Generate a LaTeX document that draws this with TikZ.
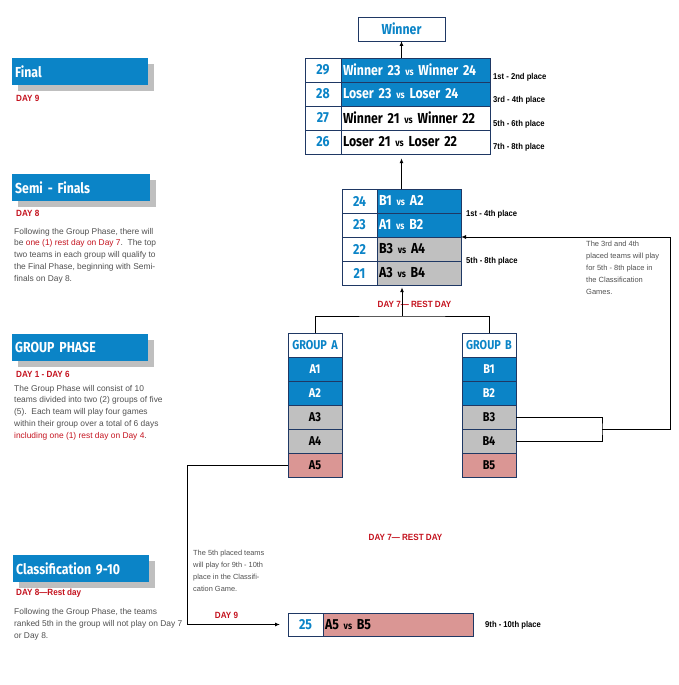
\documentclass[tikz,border=0pt]{standalone}
\usepackage{fontspec}
\setmainfont{Liberation Sans}
\newfontfamily\dispfont{Fira Sans}[FakeStretch=0.85]
\newfontfamily\narrowfont{Liberation Sans}[FakeStretch=0.9]
\usetikzlibrary{positioning,arrows.meta,calc,fit,shadows}

\definecolor{tblue}{RGB}{11,132,199}
\definecolor{navy}{RGB}{31,56,100}
\definecolor{cellgray}{RGB}{192,192,192}
\definecolor{cellpink}{RGB}{218,150,148}
\definecolor{shadowgray}{RGB}{191,191,191}
\definecolor{dayred}{RGB}{196,18,30}
\definecolor{bodygray}{RGB}{80,80,80}

\newcommand\cellfnt{\dispfont\bfseries\fontsize{14.5}{15}\selectfont}
\newcommand\grpfnt{\dispfont\bfseries\fontsize{12.8}{13}\selectfont}
\newcommand\headfnt{\dispfont\bfseries\fontsize{14.5}{15}\selectfont}
\newcommand\dayfnt{\narrowfont\bfseries\fontsize{9}{10}\selectfont}
\newcommand\placefnt{\narrowfont\bfseries\fontsize{8.5}{9}\selectfont}
\newcommand\bodyfnt{\fontsize{8.4}{11.7}\selectfont}
\newcommand\vstxt{{\fontsize{10}{10}\selectfont vs}}

\begin{document}
\begin{tikzpicture}[
    x=1pt, y=-1pt,
    cell/.style={draw=navy, line width=0.8pt, minimum height=24pt,
                 inner xsep=2pt, inner ysep=0pt, outer sep=0pt, anchor=north west},
    numcell/.style={cell, fill=white, text=tblue, align=center, font=\cellfnt},
    match/.style={cell, align=left, font=\cellfnt},
    gcell/.style={cell, text width=50pt, align=center, font=\grpfnt},
    onblue/.style={fill=tblue, text=white},
    ongray/.style={fill=cellgray, text=black},
    onpink/.style={fill=cellpink, text=black},
    onwhite/.style={fill=white, text=black},
    head/.style={fill=tblue, text=white, font=\headfnt, minimum height=27pt,
                 text width=130pt, align=left, inner xsep=3pt, inner ysep=0pt,
                 anchor=north west,
                 general shadow={fill=shadowgray, shadow xshift=6pt, shadow yshift=-6pt}},
    day/.style={text=dayred, font=\dayfnt, inner sep=0pt},
    place/.style={font=\placefnt, anchor=west, inner sep=0pt},
    body/.style={font=\bodyfnt, text=bodygray, align=left, anchor=north west, inner sep=0pt},
    note/.style={body, font=\fontsize{7.5}{12}\selectfont},
    link/.style={line width=1pt},
    arr/.style={link, -{Latex[length=5pt,width=4pt]}},
  ]
  \useasboundingbox (0,0) rectangle (679,685);

  % --- Left column: phases ------------------------------------------------
  \node[head] (hfinal) at (12,58) {Final};
  \node[day, anchor=west] (dfinal) at (16,98) {DAY 9};

  \node[head, text width=132pt] (hsemi) at (12,174) {Semi - Finals};
  \node[day, anchor=west] (dsemi) at (16,213) {DAY 8};
  \node[body] (bsemi) at (14,228) {Following the Group Phase, there will\\
    be {\color{dayred}one (1) rest day on Day 7}.\ \ The top\\
    two teams in each group will qualify to\\
    the Final Phase, beginning with Semi-\\
    finals on Day 8.};

  \node[head] (hgroup) at (12,334) {GROUP PHASE};
  \node[day, anchor=west] (dgroup) at (16,374) {DAY 1 - DAY 6};
  \node[body] (bgroup) at (14,385) {The Group Phase will consist of 10\\
    teams divided into two (2) groups of five\\
    (5).\ \ Each team will play four games\\
    within their group over a total of 6 days\\
    {\color{dayred}including one (1) rest day on Day 4}.};

  \node[head] (hclass) at (13,555) {Classification 9-10};
  \node[day, anchor=west] (dclass) at (16,593) {DAY 8\textemdash Rest day};
  \node[body] (bclass) at (14,608.5) {Following the Group Phase, the teams\\
    ranked 5th in the group will not play on Day 7\\
    or Day 8.};

  % --- Final (day 9) ------------------------------------------------------
  \node[cell, fill=white, text=tblue, minimum width=87pt, font=\cellfnt] (winner) at (358,17) {Winner};

  \node[numcell, text width=32pt] (f29n) at (305,58) {29};
  \node[match, onblue, text width=145pt] (f29) at (f29n.north east) {Winner 23 \vstxt{} Winner 24};
  \node[numcell, text width=32pt] (f28n) at (f29n.south west) {28};
  \node[match, onblue, text width=145pt] (f28) at (f28n.north east) {Loser 23 \vstxt{} Loser 24};
  \node[numcell, text width=32pt] (f27n) at (f28n.south west) {27};
  \node[match, onwhite, text width=145pt] (f27) at (f27n.north east) {Winner 21 \vstxt{} Winner 22};
  \node[numcell, text width=32pt] (f26n) at (f27n.south west) {26};
  \node[match, onwhite, text width=145pt] (f26) at (f26n.north east) {Loser 21 \vstxt{} Loser 22};
  \node[fit=(f29n)(f26), inner sep=0pt] (final) {};

  \node[place] (p12) at (493,77) {1st - 2nd place};
  \node[place] (p34) at (493,100) {3rd - 4th place};
  \node[place] (p56) at (493,124) {5th - 6th place};
  \node[place] (p78) at (493,147) {7th - 8th place};

  % --- Semi-finals (day 8) ------------------------------------------------
  \node[numcell, text width=31pt] (s24n) at (342,189) {24};
  \node[match, onblue, text width=80pt] (s24) at (s24n.north east) {B1 \vstxt{} A2};
  \node[numcell, text width=31pt] (s23n) at (s24n.south west) {23};
  \node[match, onblue, text width=80pt] (s23) at (s23n.north east) {A1 \vstxt{} B2};
  \node[numcell, text width=31pt] (s22n) at (s23n.south west) {22};
  \node[match, ongray, text width=80pt] (s22) at (s22n.north east) {B3 \vstxt{} A4};
  \node[numcell, text width=31pt] (s21n) at (s22n.south west) {21};
  \node[match, ongray, text width=80pt] (s21) at (s21n.north east) {A3 \vstxt{} B4};
  \node[fit=(s24n)(s21), inner sep=0pt] (semi) {};

  \node[place] (p14) at (466,214) {1st - 4th place};
  \node[place] (p58) at (466,261) {5th - 8th place};
  \node[day] (rest1) at (414.5,304) {DAY 7\textemdash\ REST DAY};

  \node[note] (n34) at (586,241) {The 3rd and 4th\\
    placed teams will play\\
    for 5th - 8th place in\\
    the Classification\\
    Games.};

  % --- Groups -------------------------------------------------------------
  \node[gcell, fill=white, text=tblue] (grpA) at (288,333) {GROUP A};
  \node[gcell, onblue] (a1) at (grpA.south west) {A1};
  \node[gcell, onblue] (a2) at (a1.south west) {A2};
  \node[gcell, ongray] (a3) at (a2.south west) {A3};
  \node[gcell, ongray] (a4) at (a3.south west) {A4};
  \node[gcell, onpink] (a5) at (a4.south west) {A5};

  \node[gcell, fill=white, text=tblue] (grpB) at (462,333) {GROUP B};
  \node[gcell, onblue] (b1) at (grpB.south west) {B1};
  \node[gcell, onblue] (b2) at (b1.south west) {B2};
  \node[gcell, ongray] (b3) at (b2.south west) {B3};
  \node[gcell, ongray] (b4) at (b3.south west) {B4};
  \node[gcell, onpink] (b5) at (b4.south west) {B5};

  % --- Classification 9-10 (day 9) ----------------------------------------
  \node[day] (rest2) at (405.5,537) {DAY 7\textemdash\ REST DAY};
  \node[note, font=\fontsize{7.4}{12.3}\selectfont] (n5th) at (193,549.5) {The 5th placed teams\\
    will play for 9th - 10th\\
    place in the Classifi-\\
    cation Game.};
  \node[day] (d9c) at (226.5,615) {DAY 9};

  \node[numcell, text width=31pt, minimum height=23pt] (c25n) at (288,613) {25};
  \node[match, onpink, text width=146pt, minimum height=23pt] (c25) at (c25n.north east) {A5 \vstxt{} B5};
  \node[place] (p910) at (485,625) {9th - 10th place};

  % --- Connectors ---------------------------------------------------------
  \coordinate (brk) at ($(grpA.north)!0.5!(grpB.north)+(0,-17)$);
  \coordinate (bk) at ($(b3.east)!0.5!(b4.east)+(86,0)$);

  \draw[arr] (final.north -| winner.south) -- (winner.south);
  \draw[arr, shorten >=4pt] (semi.north) -- (semi.north |- final.south);
  \draw[link] (grpA.north) |- (brk) -| (grpB.north);
  \draw[arr, shorten >=2pt] (brk) -- (semi.south -| brk);
  \draw[link] (b3.east) -| (bk) |- (b4.east);
  \draw[arr] (bk) -- ++(68,0) |- (s22.north east);
  \draw[arr, shorten >=8pt] (a5.west) -- ++(-101,0) |- (c25n.west);

\end{tikzpicture}
\end{document}
